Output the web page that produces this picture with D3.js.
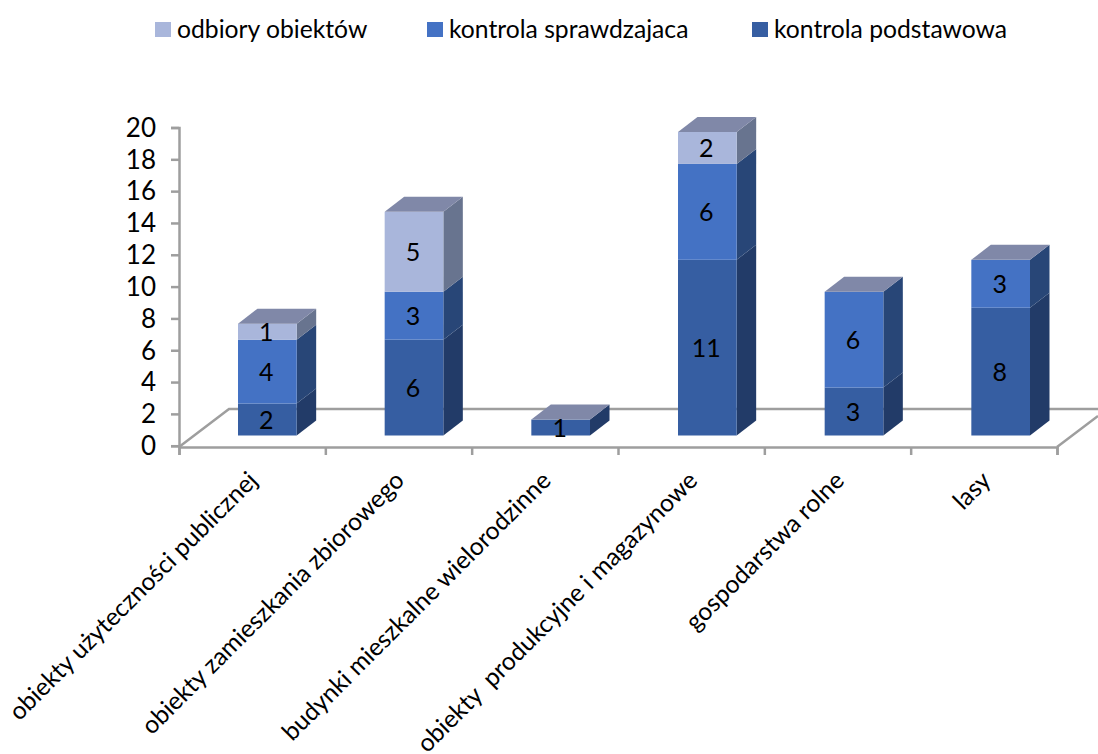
<!DOCTYPE html>
<html>
<head>
<meta charset="utf-8">
<script src="https://cdn.jsdelivr.net/npm/d3@7"></script>
<style>
  html, body { margin: 0; padding: 0; background: #fff; overflow: hidden; }
  svg { display: block; }
  text { font-family: Lato, "Open Sans", sans-serif; fill: #000; white-space: pre; }
</style>
</head>
<body>
<svg id="chart"></svg>
<script>
const categories = [
  "obiekty użyteczności publicznej",
  "obiekty zamieszkania zbiorowego",
  "budynki mieszkalne wielorodzinne",
  "obiekty  produkcyjne i magazynowe",
  "gospodarstwa rolne",
  "lasy"
];
const seriesNames = ["kontrola podstawowa", "kontrola sprawdzajaca", "odbiory obiektów"];
const podstawowa = [2, 6, 1, 11, 3, 8];
const sprawdzajaca = [4, 3, 0, 6, 6, 3];
const odbiory = [1, 5, 0, 2, 0, 0];
const yTicks = d3.range(0, 21, 2);

const width = 1098, height = 754;
const frontColors = ["#365EA2", "#4472C4", "#A9B6DB"];
const sideColors = ["#223B68", "#284677", "#68748F"];
const topColor = "#8088A8";
const gridColor = "#9E9E9E";
const depthX = 19.5, depthY = 15; // 3d offset of the bars

const svg = d3.select("#chart").attr("width", width).attr("height", height);

// stack the three series
const rows = categories.map((c, i) => ({
  cat: c,
  [seriesNames[0]]: podstawowa[i],
  [seriesNames[1]]: sprawdzajaca[i],
  [seriesNames[2]]: odbiory[i]
}));
const stacked = d3.stack().keys(seriesNames)(rows);

const x = d3.scaleBand().domain(categories).range([238, 1030]).paddingInner(0.6).paddingOuter(0);
const yBar = d3.scaleLinear().domain([0, 20]).range([435.5, 116]);  // front plane of the bars
const yAxis = d3.scaleLinear().domain([0, 20]).range([445.7, 127.5]); // axis is drawn in front of them
const xTick = d3.scaleLinear().domain([0, categories.length]).range([179, 1057]);

// floor of the chart
svg.append("path")
  .attr("d", "M179,447 L229,409 L1098,409 M1057,447 L1098,416")
  .attr("fill", "none")
  .attr("stroke", gridColor)
  .attr("stroke-width", 2.5);

// y axis
const gy = svg.append("g")
  .attr("transform", "translate(179,0)")
  .call(d3.axisLeft(yAxis).tickValues(yTicks).tickSize(8).tickPadding(15));
gy.selectAll("text").attr("font-size", 26).style("font-family", "Lato").attr("dy", "0.34em");

// x axis, ticks sit between the categories
const gx = svg.append("g")
  .attr("transform", "translate(0,447)")
  .call(d3.axisBottom(xTick).tickValues(d3.range(0, categories.length + 1)).tickSize(8).tickFormat(""));

svg.selectAll(".domain, .tick line")
  .attr("stroke", gridColor)
  .attr("stroke-width", 2.5);

// category labels
svg.append("g").selectAll("text")
  .data(categories)
  .join("text")
  .attr("transform", (d, i) => `translate(${x(d) + 21},${482}) rotate(-45)`)
  .attr("text-anchor", "end")
  .attr("font-size", 24.6)
  .text(d => d);

// bars
const barGroups = svg.append("g").selectAll("g")
  .data(stacked)
  .join("g");

barGroups.each(function(s, k) {
  const g = d3.select(this);
  const segs = s.filter(d => d[1] > d[0]);
  // side face
  g.selectAll(".side")
    .data(segs)
    .join("path")
    .attr("class", "side")
    .attr("fill", sideColors[k])
    .attr("d", d => {
      const r = x(d.data.cat) + x.bandwidth();
      return `M${r},${yBar(d[0])} L${r + depthX},${yBar(d[0]) - depthY} L${r + depthX},${yBar(d[1]) - depthY} L${r},${yBar(d[1])} Z`;
    });
  // front face
  g.selectAll(".front")
    .data(segs)
    .join("rect")
    .attr("class", "front")
    .attr("x", d => x(d.data.cat))
    .attr("y", d => yBar(d[1]))
    .attr("width", x.bandwidth())
    .attr("height", d => yBar(d[0]) - yBar(d[1]))
    .attr("fill", frontColors[k]);
});

// top faces, same colour for every bar
svg.append("g").selectAll("path")
  .data(categories)
  .join("path")
  .attr("fill", topColor)
  .attr("d", (c, i) => {
    const l = x(c), r = l + x.bandwidth();
    const t = yBar(podstawowa[i] + sprawdzajaca[i] + odbiory[i]);
    return `M${l},${t} L${l + depthX},${t - depthY} L${r + depthX},${t - depthY} L${r},${t} Z`;
  });

// value labels
stacked.forEach(s => {
  svg.append("g").selectAll("text")
    .data(s.filter(d => d[1] > d[0]))
    .join("text")
    .attr("x", d => x(d.data.cat) + x.bandwidth() / 2 - 1)
    .attr("y", d => (yBar(d[0]) + yBar(d[1])) / 2 + 9)
    .attr("text-anchor", "middle")
    .attr("font-size", 25)
    .text(d => d[1] - d[0]);
});

// legend, drawn in reverse series order
const legendX = [155, 427, 752];
const legend = svg.append("g").selectAll("g")
  .data(seriesNames.slice().reverse())
  .join("g")
  .attr("transform", (d, i) => `translate(${legendX[i]},22)`);
legend.append("rect")
  .attr("width", 16).attr("height", 15)
  .attr("fill", (d, i) => frontColors[2 - i]);
legend.append("text")
  .attr("x", 22).attr("y", 15.5)
  .attr("font-size", 24.7)
  .text(d => d);
</script>
</body>
</html>
